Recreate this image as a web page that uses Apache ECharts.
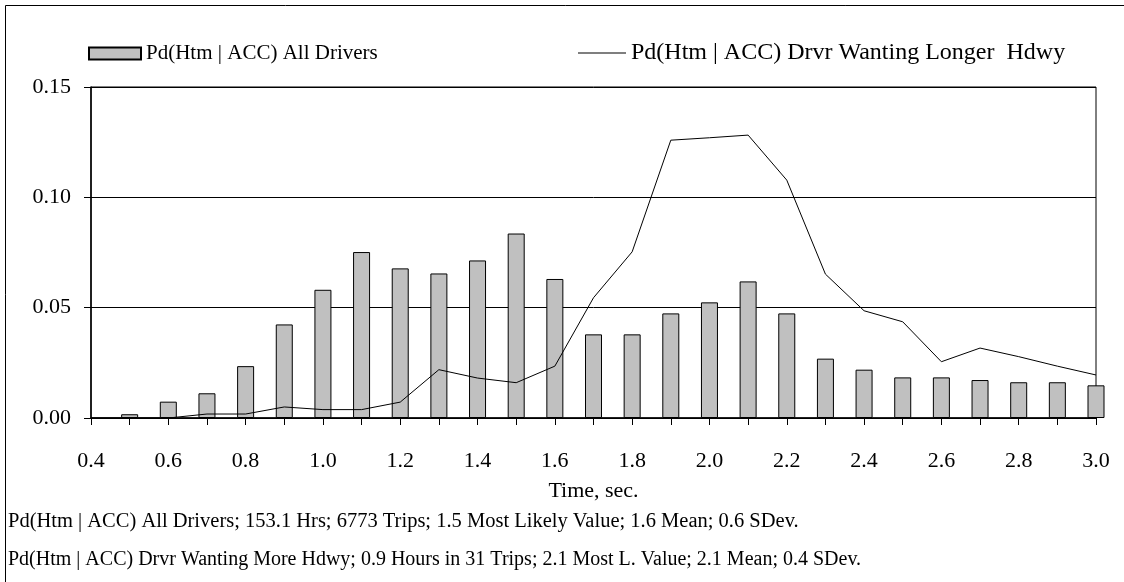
<!DOCTYPE html>
<html>
<head>
<meta charset="utf-8">
<script src="https://cdn.jsdelivr.net/npm/echarts@6/dist/echarts.min.js"></script>
<style>
  html, body { margin: 0; padding: 0; background: #fff; }
  #chart { width: 1124px; height: 582px; }
</style>
</head>
<body>
<div id="chart"></div>
<script>
// Time, sec. categories (one every 0.1 s)
const times = ['0.4', '0.5', '0.6', '0.7', '0.8', '0.9', '1.0', '1.1', '1.2', '1.3', '1.4', '1.5', '1.6', '1.7',
  '1.8', '1.9', '2.0', '2.1', '2.2', '2.3', '2.4', '2.5', '2.6', '2.7', '2.8', '2.9', '3.0'];

// Pd(Htm | ACC) All Drivers - bars
const allDrivers = [null, 0.0017, 0.0074, 0.0112, 0.0235, 0.0424, 0.0581, 0.0752, 0.0678, 0.0655, 0.0714, 0.0836,
  0.0630, 0.0379, 0.0379, 0.0474, 0.0524, 0.0619, 0.0474, 0.0269, 0.0219, 0.0184, 0.0184, 0.0172, 0.0162, 0.0162, 0.0148];

// Pd(Htm | ACC) Drvr Wanting Longer Hdwy - line
const longerHdwy = [0, 0, 0, 0.0018, 0.0018, 0.0050, 0.0038, 0.0038, 0.0072, 0.0219, 0.0181, 0.0160,
  0.0235, 0.0545, 0.0753, 0.1259, 0.1270, 0.1282, 0.1078, 0.0652, 0.0486, 0.0436, 0.0255, 0.0317, 0.0278, 0.0235, 0.0195];

const barName = 'Pd(Htm | ACC) All Drivers';
const lineName = 'Pd(Htm | ACC) Drvr Wanting Longer  Hdwy';
const notes = [
  'Pd(Htm | ACC) All Drivers; 153.1 Hrs; 6773 Trips; 1.5 Most Likely Value; 1.6 Mean; 0.6 SDev.',
  'Pd(Htm | ACC) Drvr Wanting More Hdwy; 0.9 Hours in 31 Trips; 2.1 Most L. Value; 2.1 Mean; 0.4 SDev.'
];

const font = "'Liberation Serif', 'Times New Roman', serif";

const chart = echarts.init(document.getElementById('chart'));

chart.setOption({
  animation: false,
  textStyle: { fontFamily: font, color: '#000' },
  legend: [
    {
      data: [{ name: barName, icon: 'rect' }],
      left: 88,
      top: 43,
      padding: 0,
      itemWidth: 52,
      itemHeight: 12,
      textStyle: { fontFamily: font, fontSize: 21, color: '#000' }
    },
    {
      data: [{ name: lineName, icon: 'rect', itemStyle: { color: '#000', borderWidth: 0 } }],
      left: 578,
      top: 41,
      padding: 0,
      itemWidth: 48,
      itemHeight: 1,
      textStyle: { fontFamily: font, fontSize: 24, color: '#000' }
    }
  ],
  grid: {
    left: 91,
    right: 28,
    top: 87,
    bottom: 164,
    show: true,
    borderColor: '#000',
    borderWidth: 1
  },
  xAxis: {
    type: 'category',
    data: times,
    boundaryGap: false,
    name: 'Time, sec.',
    nameLocation: 'middle',
    nameGap: 62,
    nameTextStyle: { fontFamily: font, fontSize: 22, color: '#000' },
    axisLine: { lineStyle: { color: '#000', width: 1.5 } },
    axisTick: { interval: 0, length: 7, lineStyle: { color: '#000' } },
    axisLabel: { interval: 1, margin: 32, fontFamily: font, fontSize: 22, color: '#000' },
    splitLine: { show: false }
  },
  yAxis: {
    type: 'value',
    min: 0,
    max: 0.15,
    interval: 0.05,
    axisLine: { show: true, lineStyle: { color: '#000', width: 1.5 } },
    axisTick: { show: true, length: 7, lineStyle: { color: '#000' } },
    axisLabel: {
      margin: 20,
      fontFamily: font,
      fontSize: 22,
      color: '#000',
      formatter: v => v.toFixed(2)
    },
    splitLine: { lineStyle: { color: '#000', width: 1 } }
  },
  series: [
    {
      name: barName,
      type: 'bar',
      data: allDrivers,
      barWidth: 17,
      itemStyle: { color: '#c0c0c0', borderColor: '#000', borderWidth: 1 }
    },
    {
      name: lineName,
      type: 'line',
      data: longerHdwy,
      symbol: 'none',
      color: '#000',
      lineStyle: { color: '#000', width: 1 }
    }
  ],
  graphic: [
    {
      type: 'rect',
      shape: { x: 5.5, y: 5.5, width: 1200, height: 700 },
      style: { fill: 'none', stroke: '#000', lineWidth: 1 },
      silent: true
    },
    {
      type: 'text',
      left: 8,
      top: 511,
      style: { text: notes[0], fontFamily: font, fontSize: 20.5, fill: '#000' }
    },
    {
      type: 'text',
      left: 8,
      top: 550,
      style: { text: notes[1], fontFamily: font, fontSize: 20, fill: '#000' }
    }
  ]
});
</script>
</body>
</html>
